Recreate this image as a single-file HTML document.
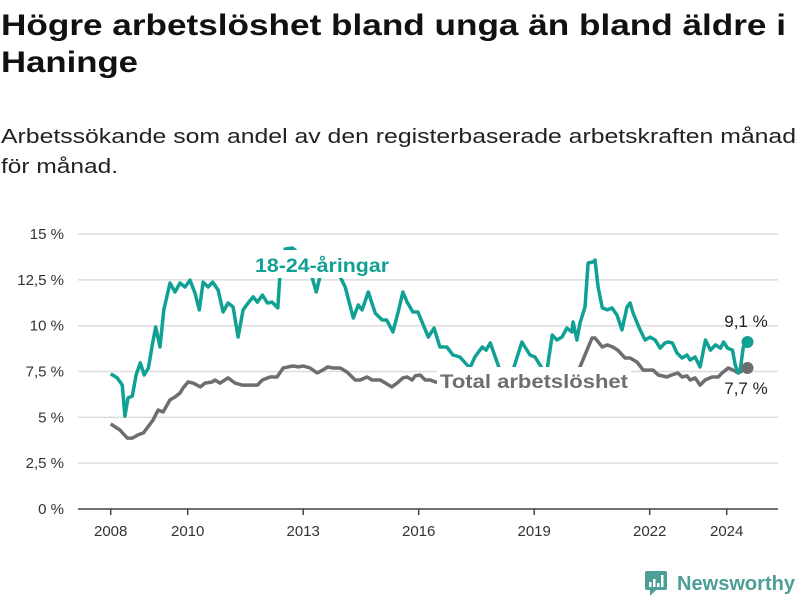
<!DOCTYPE html>
<html><head><meta charset="utf-8"><style>
html,body{margin:0;padding:0;background:#fff;width:800px;height:600px;overflow:hidden}
svg{display:block;font-family:"Liberation Sans",sans-serif}
</style></head><body>
<svg id="chart" width="800" height="600" viewBox="0 0 800 600">
<text x="1" y="35" font-size="30" font-weight="bold" fill="#111" textLength="785" lengthAdjust="spacingAndGlyphs">Högre arbetslöshet bland unga än bland äldre i</text>
<text x="1" y="72" font-size="30" font-weight="bold" fill="#111" textLength="137" lengthAdjust="spacingAndGlyphs">Haninge</text>
<text x="1" y="143" font-size="20" fill="#222" textLength="795" lengthAdjust="spacingAndGlyphs">Arbetssökande som andel av den registerbaserade arbetskraften månad</text>
<text x="1" y="173" font-size="20" fill="#222" textLength="117" lengthAdjust="spacingAndGlyphs">för månad.</text>
<g id="grid"></g><g id="xaxis"></g><g id="lines"></g><g id="labels"></g>
<g>
<rect x="645" y="571" width="22" height="19" rx="2" fill="#4d9e96"/>
<polygon points="650,590 656,590 650,596" fill="#4d9e96"/>
<rect x="649" y="582" width="2.5" height="5" fill="#fff"/><rect x="653" y="579" width="2.5" height="8" fill="#fff"/><rect x="657" y="583" width="2.5" height="4" fill="#fff"/><rect x="661" y="575" width="2.5" height="12" fill="#fff"/>
<text x="677" y="590" font-size="20" font-weight="bold" fill="#4d9e96" textLength="118" lengthAdjust="spacingAndGlyphs">Newsworthy</text>
</g>
</svg>
<script>
const yTicks=[0,2.5,5,7.5,10,12.5,15];
const yTickLabels=["0 %","2,5 %","5 %","7,5 %","10 %","12,5 %","15 %"];
const xTicks=[2008,2010,2013,2016,2019,2022,2024];
// years since Jan 2008
const youthT=[0,0.17,0.30,0.37,0.45,0.56,0.66,0.77,0.87,0.98,1.08,1.17,1.28,1.38,1.54,1.67,1.80,1.93,2.06,2.19,2.30,2.40,2.53,2.65,2.79,2.92,3.05,3.18,3.31,3.44,3.57,3.70,3.81,3.94,4.07,4.19,4.34,4.40,4.53,4.72,4.93,5.08,5.21,5.34,5.44,5.59,5.77,5.96,6.09,6.30,6.43,6.53,6.69,6.87,7.05,7.17,7.33,7.46,7.59,7.70,7.85,7.98,8.25,8.40,8.55,8.73,8.89,9.07,9.33,9.46,9.65,9.75,9.86,10.11,10.30,10.45,10.68,10.89,11.02,11.23,11.34,11.47,11.59,11.72,11.85,11.98,12.01,12.11,12.19,12.32,12.40,12.53,12.58,12.66,12.77,12.90,13.02,13.15,13.28,13.41,13.49,13.57,13.75,13.88,14.01,14.14,14.27,14.40,14.48,14.59,14.71,14.84,14.97,15.05,15.18,15.31,15.45,15.58,15.71,15.84,15.92,16.02,16.15,16.22,16.3,16.35,16.43,16.54];
const youthV=[7.37,7.15,6.76,5.07,6.06,6.16,7.31,7.97,7.31,7.69,8.95,9.93,8.84,10.86,12.33,11.84,12.33,12.11,12.49,11.78,10.86,12.38,12.11,12.38,11.95,10.75,11.24,11.02,9.38,10.86,11.24,11.57,11.29,11.67,11.24,11.29,10.97,12.88,14.18,14.24,13.86,13.15,12.77,11.84,12.71,13.48,13.15,12.66,12.11,10.42,11.13,10.86,11.84,10.69,10.31,10.31,9.66,10.69,11.84,11.29,10.75,10.75,9.38,9.87,8.84,8.84,8.4,8.29,7.69,8.29,8.84,8.67,9.06,7.58,7.47,7.58,9.11,8.4,8.29,7.58,7.69,9.49,9.22,9.38,9.87,9.66,10.2,9.22,10.15,11.02,13.42,13.48,13.58,12.11,10.97,10.86,10.97,10.58,9.77,11.02,11.24,10.69,9.77,9.22,9.38,9.22,8.78,9.06,9.11,9.06,8.51,8.24,8.4,8.13,8.29,7.75,9.22,8.67,8.95,8.78,9.11,8.78,8.67,7.86,7.42,7.58,8.84,9.11];
const totalT=[0,0.24,0.43,0.56,0.71,0.85,1.10,1.23,1.36,1.54,1.67,1.80,1.88,2.01,2.14,2.33,2.45,2.63,2.71,2.84,3.05,3.23,3.41,3.57,3.81,3.94,4.14,4.32,4.48,4.61,4.74,4.87,5.00,5.18,5.36,5.51,5.64,5.77,5.96,6.14,6.35,6.48,6.66,6.79,7.00,7.30,7.44,7.59,7.70,7.83,7.91,8.04,8.17,8.30,8.43,9.60,11.15,12.06,12.19,12.50,12.58,12.77,12.90,13.04,13.17,13.36,13.49,13.67,13.83,14.09,14.22,14.45,14.57,14.73,14.84,14.97,15.05,15.18,15.31,15.44,15.62,15.78,15.88,16.04,16.17,16.3,16.54];
const totalV=[4.64,4.31,3.87,3.87,4.04,4.15,4.86,5.4,5.29,5.95,6.11,6.33,6.6,6.93,6.87,6.66,6.87,6.93,7.04,6.87,7.15,6.87,6.76,6.76,6.76,7.04,7.2,7.2,7.69,7.75,7.8,7.75,7.8,7.69,7.42,7.58,7.75,7.69,7.69,7.47,7.04,7.04,7.2,7.04,7.04,6.66,6.87,7.15,7.2,7.04,7.26,7.31,7.04,7.04,6.93,6.87,6.82,7.04,7.75,9.33,9.33,8.84,8.95,8.84,8.67,8.24,8.24,8.02,7.58,7.58,7.31,7.2,7.31,7.42,7.2,7.26,7.04,7.15,6.76,7.04,7.2,7.2,7.42,7.69,7.58,7.42,7.69];
const youthLast="9,1 %", totalLast="7,7 %";

const NS="http://www.w3.org/2000/svg";
const X0=110.7,PXY=38.5,Y0=509,PXP=18.33;
function xs(t){return X0+PXY*t;}
function xYear(y){return xs(y-2008);}
function ys(v){return Y0-PXP*v;}
function mk(tag,attrs,parent){const e=document.createElementNS(NS,tag);for(const k in attrs)e.setAttribute(k,attrs[k]);parent.appendChild(e);return e;}
const grid=document.getElementById('grid'),xa=document.getElementById('xaxis'),ln=document.getElementById('lines'),lb=document.getElementById('labels');
yTicks.forEach((v,i)=>{
  if(v>0){const g=mk('line',{x1:78,x2:778,y1:ys(v),y2:ys(v),stroke:'#dcdcdc','stroke-width':1.5},grid);
  
  }
  const t=mk('text',{x:64,y:ys(v)+5,'text-anchor':'end','font-size':15,fill:'#333'},grid);
  
  
  t.textContent=yTickLabels[i];
});
const ax=mk('line',{x1:78,x2:778,y1:Y0,y2:Y0,stroke:'#444','stroke-width':1.5},xa);


xTicks.forEach(y=>{
  const x=xYear(y);
  const tk=mk('line',{x1:x,x2:x,y1:Y0,y2:Y0+6,stroke:'#444','stroke-width':1.5},xa);
  
  
  const t=mk('text',{x:x,y:536,'text-anchor':'middle','font-size':15,fill:'#333'},xa);
  
  
  t.textContent=y;
});
function path(T,V){return T.map((t,i)=>(i?'L':'M')+xs(t).toFixed(1)+','+ys(V[i]).toFixed(1)).join('');}
const gp=mk('path',{d:path(totalT,totalV),fill:'none',stroke:'#6e6d72','stroke-width':3.5,'stroke-linejoin':'round'},ln);


const tp=mk('path',{d:path(youthT,youthV),fill:'none',stroke:'#10a094','stroke-width':3.5,'stroke-linejoin':'round'},ln);


const gd=mk('circle',{cx:xs(totalT[totalT.length-1]),cy:ys(totalV[totalV.length-1]),r:6,fill:'#6e6d72'},ln);


const td=mk('circle',{cx:xs(youthT[youthT.length-1]),cy:ys(youthV[youthV.length-1]),r:6,fill:'#10a094'},ln);


mk('rect',{x:252,y:250,width:140,height:28,fill:'#fff'},lb);
const l1=mk('text',{x:255,y:272,'font-size':19,'font-weight':'bold',fill:'#10a094',textLength:134,lengthAdjust:'spacingAndGlyphs'},lb);


l1.textContent='18-24-åringar';
mk('rect',{x:437,y:367,width:194,height:26,fill:'#fff'},lb);
const l2=mk('text',{x:440,y:388,'font-size':19,'font-weight':'bold',fill:'#6e6d72',textLength:188,lengthAdjust:'spacingAndGlyphs'},lb);


l2.textContent='Total arbetslöshet';
const e1=mk('text',{x:746,y:327,'text-anchor':'middle','font-size':17,fill:'#222'},lb);


e1.textContent=youthLast;
const e2=mk('text',{x:746,y:394,'text-anchor':'middle','font-size':17,fill:'#222'},lb);


e2.textContent=totalLast;
</script>
</body></html>
